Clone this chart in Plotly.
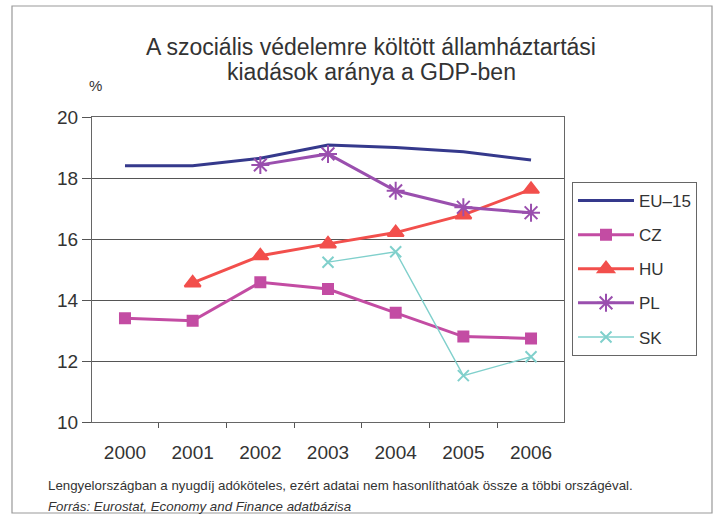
import plotly.graph_objects as go

# Social protection expenditure of general government, % of GDP
years = ["2000", "2001", "2002", "2003", "2004", "2005", "2006"]
eu15 = [18.40, 18.40, 18.65, 19.08, 19.00, 18.86, 18.59]
cz = [13.40, 13.32, 14.58, 14.36, 13.58, 12.80, 12.74]
hu = [None, 14.56, 15.45, 15.84, 16.21, 16.79, 17.63]
pl = [None, None, 18.43, 18.79, 17.58, 17.04, 16.86]
sk = [None, None, None, 15.24, 15.58, 11.52, 12.14]

y_ticks = [10, 12, 14, 16, 18, 20]

title_lines = ["A szociális védelemre költött államháztartási", "kiadások aránya a GDP-ben"]
note = "Lengyelországban a nyugdíj adóköteles, ezért adatai nem hasonlíthatóak össze a többi országéval."
source = "Forrás: Eurostat, Economy and Finance adatbázisa"

FONT = "Liberation Sans"
NARROW = "Liberation Sans Narrow, Liberation Sans, Arial"
TXT = "#333333"

# plot area in pixels: x 92..564, y 117..422
def px(x):
    return (x - 92) / 472

def py(y):
    return (422 - y) / 305

fig = go.Figure()

series = [
    ("EU–15", eu15, "#35398c", 3, None, 0),
    ("CZ", cz, "#c34ca3", 3, "square", 10),
    ("HU", hu, "#f24f4c", 3, "triangle-up", 14),
    ("PL", pl, "#9a4fae", 3, "asterisk-open", 15),
    ("SK", sk, "#80d0cc", 1.4, "x-thin-open", 11),
]

for name, vals, color, width, symbol, size in series:
    marker = dict(color=color, size=size, line=dict(color=color, width=2 if symbol else 0))
    if symbol:
        marker["symbol"] = symbol
    fig.add_trace(go.Scatter(
        x=years, y=vals, name=name, legendgroup=name,
        mode="lines+markers" if symbol else "lines",
        line=dict(color=color, width=width),
        marker=marker,
        connectgaps=False,
    ))

fig.update_layout(
    width=718, height=523,
    margin=dict(l=92, r=154, t=117, b=101),
    paper_bgcolor="white", plot_bgcolor="white",
    font=dict(family=FONT, color=TXT, size=18),
    showlegend=True,
    legend=dict(
        x=px(572), y=py(182), xanchor="left", yanchor="top",
        bordercolor="#666666", borderwidth=1,
        font=dict(family=FONT, size=17, color=TXT),
        tracegroupgap=9, traceorder="grouped",
        itemwidth=56,
    ),
)

fig.update_xaxes(
    type="category", tickson="boundaries",
    ticks="outside", ticklen=5, tickcolor="#555555",
    showline=True, linecolor="#666666", linewidth=1, mirror=True,
    showgrid=False, tickfont=dict(size=19, color=TXT),
    ticklabelstandoff=13,
)
fig.update_yaxes(
    range=[10, 20], tickvals=y_ticks,
    ticks="outside", ticklen=9, tickcolor="#555555",
    showline=True, linecolor="#666666", linewidth=1, mirror=True,
    showgrid=True, gridcolor="#555555", gridwidth=1,
    zeroline=False, tickfont=dict(size=19, color=TXT),
)

# Outer frame of the figure
fig.add_shape(type="rect", xref="paper", yref="paper",
              x0=px(12), x1=px(712), y0=py(513), y1=py(6),
              line=dict(color="#999999", width=1.2), layer="below")

for line_text, y in zip(title_lines, [47, 72]):
    fig.add_annotation(text=line_text, xref="paper", yref="paper",
                       x=px(371), y=py(y), xanchor="center", yanchor="middle",
                       showarrow=False, align="center",
                       font=dict(family=FONT, size=23, color=TXT))
fig.add_annotation(text="%", xref="paper", yref="paper",
                   x=px(95), y=py(85), xanchor="center", yanchor="middle",
                   showarrow=False, font=dict(family=FONT, size=15, color=TXT))
fig.add_annotation(text=note, xref="paper", yref="paper",
                   x=px(46), y=py(485), xanchor="left", yanchor="middle",
                   showarrow=False, font=dict(family=NARROW, size=13.3, color=TXT))
fig.add_annotation(text="<i>" + source + "</i>", xref="paper", yref="paper",
                   x=px(46), y=py(506), xanchor="left", yanchor="middle",
                   showarrow=False, font=dict(family=NARROW, size=13.3, color=TXT))

fig.write_html("out.html")
